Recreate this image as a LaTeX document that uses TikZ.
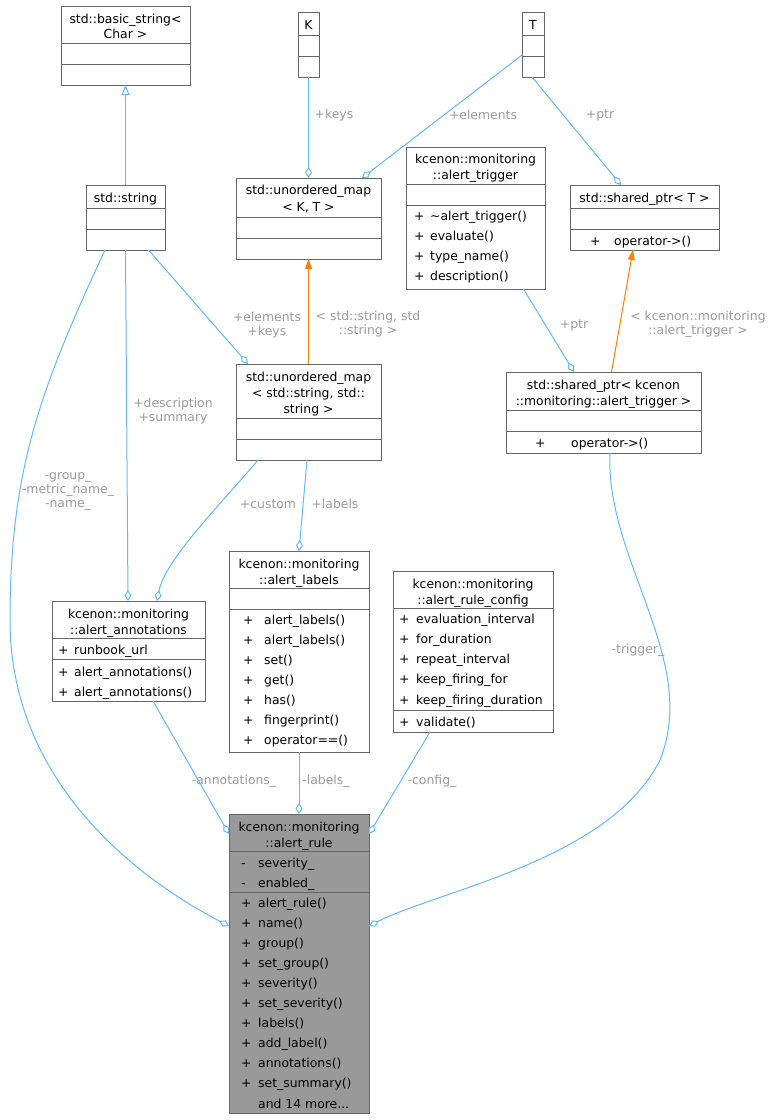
\documentclass[tikz,border=0pt]{standalone}
\usepackage{fontspec}
\setmainfont{DejaVu Sans}
\usetikzlibrary{arrows.meta}
\definecolor{edge}{HTML}{63B8FF}
\definecolor{lbl}{HTML}{9A9A9A}
\definecolor{bord}{HTML}{666666}
\tikzset{
 cls/.style={draw=bord,line width=1pt,anchor=north west,inner sep=0pt,outer sep=0pt},
 txt/.style={font=\fontsize{12.4}{14}\selectfont,inner sep=0pt},
 el/.style={font=\fontsize{12.4}{14}\selectfont,text=lbl,align=center,inner sep=1pt},
 ag/.style={draw=edge,line width=1pt,-{Diamond[open,length=11pt,width=7pt]}},
 inh/.style={draw=edge,line width=1pt,-{Triangle[open,length=10pt,width=8pt]}},
 tmp/.style={draw=orange,line width=1pt,-{Triangle[length=10pt,width=7pt]}}
}
\newcommand\umlbox[6]{\node[cls,minimum width=#4pt,minimum height=#5pt,#6] (#1) at (#2,#3) {};}
\newcommand\sepl[3]{\draw[bord,line width=1pt] (#1,#2) -- ++(#3,0);}
\newcommand\tl[3]{\node[txt,anchor=base west] at (#1,#2) {#3};}
\newcommand\tc[3]{\node[txt,anchor=base] at (#1,#2) {#3};}
\begin{document}
\begin{tikzpicture}[x=1pt,y=-1pt]
\useasboundingbox (0,0) rectangle (775,1120);
% basic_string
\umlbox{bs}{61}{6}{129}{79}{}
\tc{125.5}{23}{std::basic\_string<}\tc{125.5}{38}{Char >}
\sepl{61}{43}{129}\sepl{61}{64}{129}
% K
\umlbox{K}{298}{12}{21}{65}{}
\tc{308.5}{29}{K}\sepl{298}{35}{21}\sepl{298}{56}{21}
% T
\umlbox{T}{522}{12}{22}{65}{}
\tc{533}{29}{T}\sepl{522}{35}{22}\sepl{522}{56}{22}
% std::string
\umlbox{ss}{86}{185}{79}{65}{}
\tc{125.5}{202}{std::string}\sepl{86}{208}{79}\sepl{86}{229}{79}
% umap K,T
\umlbox{mkt}{236}{178}{145}{81}{}
\tc{308.5}{194}{std::unordered\_map}\tc{308.5}{211}{< K, T >}
\sepl{236}{217}{145}\sepl{236}{238}{145}
% alert_trigger
\umlbox{at}{406}{147}{139}{142}{}
\tc{475.5}{163}{kcenon::monitoring}\tc{475.5}{179}{::alert\_trigger}
\sepl{406}{184}{139}\sepl{406}{205}{139}
\tl{414}{220}{+}\tl{430}{220}{\textasciitilde alert\_trigger()}
\tl{414}{240}{+}\tl{430}{240}{evaluate()}
\tl{414}{260}{+}\tl{430}{260}{type\_name()}
\tl{414}{280}{+}\tl{430}{280}{description()}
% shared_ptr<T>
\umlbox{spt}{570}{185}{149}{65}{}
\tc{644.5}{202}{std::shared\_ptr< T >}\sepl{570}{208}{149}\sepl{570}{229}{149}
\tl{590}{245}{+}\tl{614}{245}{operator->()}
% umap string
\umlbox{mss}{236}{364}{145}{96}{}
\tc{308.5}{381}{std::unordered\_map}\tc{308.5}{397}{< std::string, std::}\tc{308.5}{413}{string >}
\sepl{236}{418}{145}\sepl{236}{439}{145}
% shared_ptr<alert_trigger>
\umlbox{spa}{506}{372}{195}{81}{}
\tc{603.5}{389}{std::shared\_ptr< kcenon}\tc{603.5}{405}{::monitoring::alert\_trigger >}
\sepl{506}{410}{195}\sepl{506}{431}{195}
\tl{535}{447}{+}\tl{571}{447}{operator->()}
% alert_labels
\umlbox{al}{229}{551}{140}{201}{}
\tc{299}{568}{kcenon::monitoring}\tc{299}{584}{::alert\_labels}
\sepl{229}{588}{140}\sepl{229}{609}{140}
\foreach \n [count=\k from 0] in {alert\_labels(),alert\_labels(),set(),get(),has(),fingerprint(),operator==()}{
 \tl{243}{624+20*\k}{+}\tl{264}{624+20*\k}{\n}}
% alert_annotations
\umlbox{aa}{52}{601}{153}{100}{}
\tc{128.5}{618}{kcenon::monitoring}\tc{128.5}{634}{::alert\_annotations}
\sepl{52}{638}{153}\sepl{52}{659}{153}
\tl{58}{654}{+}\tl{74}{654}{runbook\_url}
\tl{58}{676}{+}\tl{74}{676}{alert\_annotations()}
\tl{58}{696}{+}\tl{74}{696}{alert\_annotations()}
% alert_rule_config
\umlbox{arc}{393}{571}{160}{161}{}
\tc{473}{588}{kcenon::monitoring}\tc{473}{604}{::alert\_rule\_config}
\sepl{393}{608}{160}\sepl{393}{710}{160}
\foreach \n [count=\k from 0] in {evaluation\_interval,for\_duration,repeat\_interval,keep\_firing\_for,keep\_firing\_duration}{
 \tl{399}{623+20.3*\k}{+}\tl{416}{623+20.3*\k}{\n}}
\tl{399}{726}{+}\tl{416}{726}{validate()}
% alert_rule
\umlbox{ar}{229}{814}{140}{299}{fill=black!40}
\tc{299}{831}{kcenon::monitoring}\tc{299}{847}{::alert\_rule}
\sepl{229}{851}{140}\sepl{229}{892}{140}
\tl{241}{867}{-}\tl{258}{867}{severity\_}
\tl{241}{887}{-}\tl{258}{887}{enabled\_}
\foreach \n [count=\k from 0] in {alert\_rule(),name(),group(),set\_group(),severity(),set\_severity(),labels(),add\_label(),annotations(),set\_summary()}{
 \tl{241}{907+20.1*\k}{+}\tl{258}{907+20.1*\k}{\n}}
\tl{258}{1108}{and 14 more...}
% edges
\draw[inh] (ss.north) -- (bs.south);
\draw[ag] (K.south) -- (308.5,178);
\node[el] at (334,115) {+keys};
\draw[ag] (522,55) -- (362,178);
\node[el] at (483,115) {+elements};
\draw[ag] ([xshift=-1pt]T.south) -- (621,185);
\node[el] at (600,115) {+ptr};
\draw[tmp] (mss.north) -- (mkt.south);
\node[el] at (368,324) {< std::string, std\\::string >};
\draw[ag] ([xshift=23pt]ss.south) -- (248,364);
\node[el] at (267,325) {+elements\\+keys};
\draw[tmp] ([xshift=8pt]spa.north) -- (633,250);
\node[el] at (698,324) {< kcenon::monitoring\\::alert\_trigger >};
\draw[ag] ([xshift=48pt]at.south) -- (574,372);
\node[el] at (574,325) {+ptr};
\draw[ag] (ss.south) -- (128,601);
\node[el] at (173,411) {+description\\+summary};
\draw[ag] (258,460) .. controls (220,505) and (165,560) .. (157,601);
\node[el] at (268,504) {+custom};
\draw[ag] (307,460) -- (al.north);
\node[el] at (335,504) {+labels};
\draw[ag] (105,250) .. controls (40,390) and (10,470) .. (10,620) .. controls (10,790) and (150,885) .. (229,926);
\node[el] at (68,491) {-group\_\\-metric\_name\_\\-name\_};
\draw[ag] (153,701) -- (229,834);
\node[el] at (234,781) {-annotations\_};
\draw[ag] (al.south) -- (ar.north);
\node[el] at (326,781) {-labels\_};
\draw[ag] (430,732) -- (369,834);
\node[el] at (432,781) {-config\_};
\draw[ag] (610,453) .. controls (605,560) and (700,660) .. (660,760) .. controls (610,860) and (440,890) .. (369,926);
\node[el] at (638,650) {-trigger\_};
\end{tikzpicture}
\end{document}
